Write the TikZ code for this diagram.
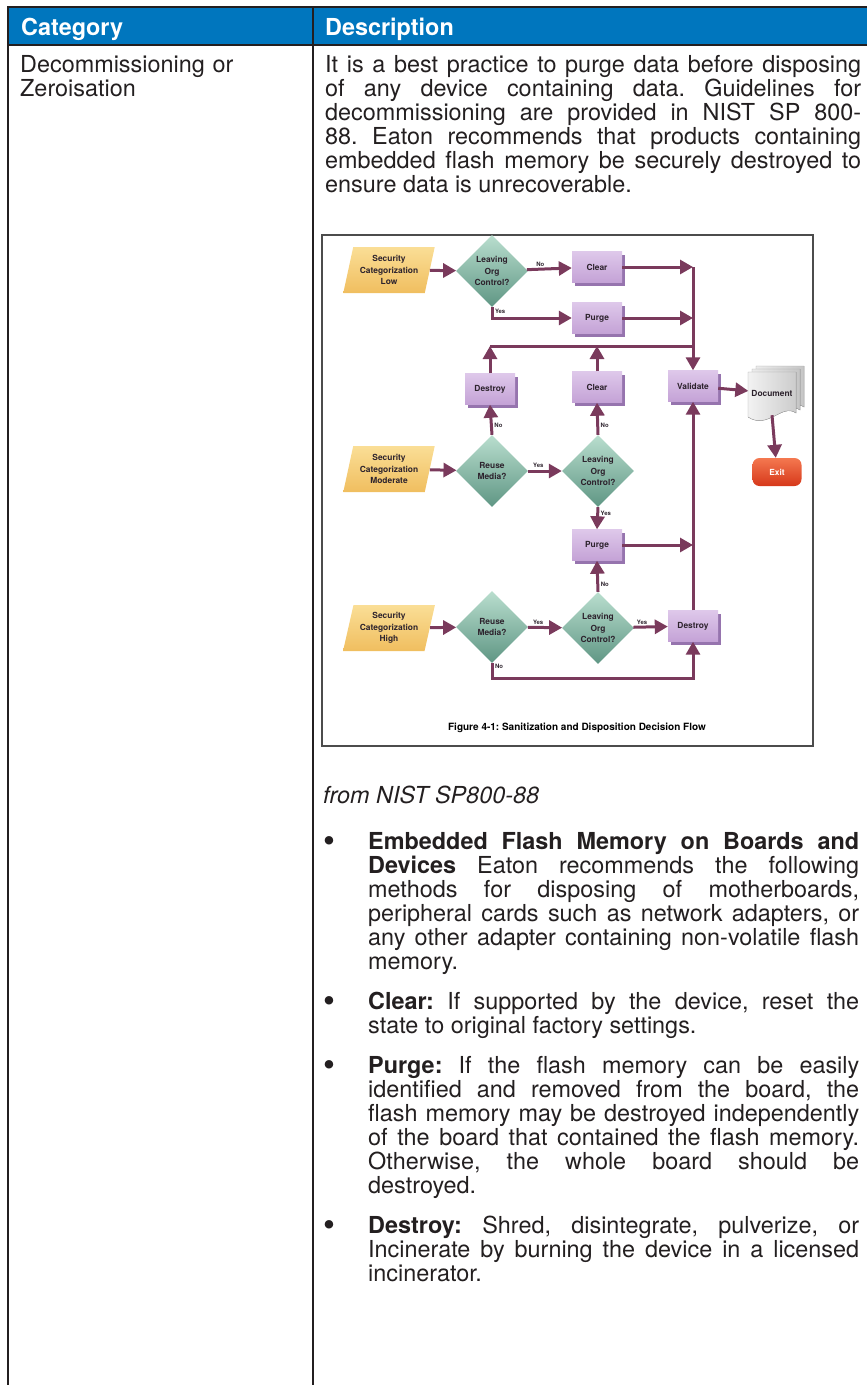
\documentclass[tikz,border=0pt]{standalone}
\usepackage{fontspec}
\setmainfont{TeX Gyre Heros}
\usetikzlibrary{positioning, shapes.geometric, arrows.meta, shadows}

\definecolor{headblue}{RGB}{0,118,190}
\definecolor{rulegray}{RGB}{35,31,32}
\definecolor{ink}{RGB}{35,31,32}
\definecolor{flowline}{RGB}{122,58,92}
\definecolor{flowtext}{RGB}{45,35,45}
\definecolor{catlight}{RGB}{250,222,150}
\definecolor{catdark}{RGB}{240,190,95}
\definecolor{qlight}{RGB}{185,222,206}
\definecolor{qdark}{RGB}{95,150,132}
\definecolor{boxlight}{RGB}{222,200,234}
\definecolor{boxfill}{RGB}{196,162,214}
\definecolor{boxside}{RGB}{150,116,174}
\definecolor{exitlight}{RGB}{244,120,80}
\definecolor{exitdark}{RGB}{214,56,26}

\newcommand{\tabbody}{\fontsize{23.4}{24}\selectfont}
\newcommand{\tabhead}{\fontsize{23.4}{24}\selectfont\bfseries}
\newcommand{\flowtxt}{\fontsize{8.4}{11.5}\selectfont\bfseries}
\newcommand{\flowtag}{\fontsize{6}{6}\selectfont\bfseries}
\newcommand{\figcapfont}{\fontsize{10}{10}\selectfont\bfseries}
\tolerance=10000
\hbadness=10000
\frenchspacing

\begin{document}
\begin{tikzpicture}[x=1pt, y=-1pt,
    txt/.style={inner sep=0pt, anchor=base west, font=\tabbody, text=ink},
    para/.style={txt, text width=536pt, align=justify},
    item/.style={txt, text width=491pt, align=justify},
    dot/.style={inner sep=0pt, anchor=base, font=\fontsize{34}{24}\selectfont, text=ink},
    head/.style={inner sep=0pt, anchor=base west, font=\tabhead, text=white},
    cat/.style={trapezium, trapezium left angle=75, trapezium right angle=105, trapezium stretches=true, minimum width=92pt, minimum height=46pt, inner sep=1pt, top color=catlight, bottom color=catdark, font=\flowtxt, align=center, text=flowtext},
    quest/.style={diamond, aspect=1, minimum size=72pt, inner sep=0pt, top color=qlight, bottom color=qdark, font=\flowtxt, align=center, text=flowtext},
    act/.style={rectangle, minimum width=50pt, minimum height=31pt, top color=boxlight, bottom color=boxfill, copy shadow={shadow xshift=3pt, shadow yshift=-3pt, fill=boxside, draw=none}, font=\flowtxt, text=flowtext},
    flow/.style={draw=flowline, line width=3pt, -{Stealth[inset=0pt, length=13pt, width=14pt]}},
    bus/.style={draw=flowline, line width=3pt},
    tag/.style={font=\flowtag, text=flowtext, inner sep=1.5pt}
  ]
  \useasboundingbox (0,0) rectangle (867,1385);

  % table
  \fill[headblue] (8,8) rectangle (867,44);
  \draw[rulegray, line width=2.5pt] (867,7) -- (8,7) -- (8,1385);
  \draw[rulegray, line width=2.5pt] (8,45) -- (867,45);
  \draw[rulegray, line width=2.5pt] (313,7) -- (313,1385);

  \node[head] (hcat) at (21,35) {Category};
  \node[head] (hdesc) at (325,35) {Description};

  \node[txt, text width=280pt, align=left] (catcell) at (20,72) {Decommissioning or\\Zeroisation};
  \node[para] (desc) at (325,72) {It is a best practice to purge data before disposing\linebreak
    of any device containing data. Guidelines for\linebreak
    decommissioning are provided in NIST SP 800-\linebreak
    88. Eaton recommends that products containing\linebreak
    embedded flash memory be securely destroyed to\linebreak
    ensure data is unrecoverable.};

  % figure 4-1
  \draw[gray!60!black, line width=1.3pt] (322,235) rectangle (813,746);

  \node[cat] (low) at (389,270) {Security\\Categorization\\Low};
  \node[cat] (mod) at (389,469) {Security\\Categorization\\Moderate};
  \node[cat] (high) at (389,628) {Security\\Categorization\\High};

  \node[quest] (q1) at (492,271) {Leaving\\Org\\Control?};
  \node[quest] (q2) at (492,471) {Reuse\\Media?};
  \node[quest] (q3) at (598,471) {Leaving\\Org\\Control?};
  \node[quest] (q4) at (492,627) {Reuse\\Media?};
  \node[quest] (q5) at (598,628) {Leaving\\Org\\Control?};

  \node[act] (clr1) at (597,267) {Clear};
  \node[act] (prg1) at (597,318) {Purge};
  \node[act] (dst1) at (490,389) {Destroy};
  \node[act] (clr2) at (597,387) {Clear};
  \node[act] (val) at (693,386) {Validate};
  \node[act] (prg2) at (597,545) {Purge};
  \node[act] (dst2) at (693,626) {Destroy};

  \foreach \k in {2,1}
    \filldraw[draw=gray!70, left color=gray!15, right color=gray!45, shift={(4*\k,-3*\k)}]
      (748,372) -- (796,372) -- (796,413) .. controls (782,403) and (768,430) .. (748,417) -- cycle;
  \filldraw[draw=gray!70, left color=gray!10, right color=gray!40]
    (748,372) -- (796,372) -- (796,413) .. controls (782,403) and (768,430) .. (748,417) -- cycle;
  \node[font=\flowtxt, text=flowtext, inner sep=0pt, minimum width=47pt, minimum height=44pt] (doc) at (772,393) {Document};
  \node[rectangle, rounded corners=7pt, minimum width=49pt, minimum height=28pt, top color=exitlight, bottom color=exitdark, font=\flowtxt, text=white] (ext) at (777,472) {Exit};

  \coordinate (bus) at (694,346);
  \coordinate (drop) at (0,678);

  \draw[flow] (low) -- (q1);
  \draw[flow] (q1) -- node[tag, above, pos=0.3] {No} (clr1);
  \draw[flow] (q1.south) |- node[tag, right, pos=0.2] {Yes} (prg1.west);
  \draw[flow] (clr1.east) -- (clr1.east -| val.north);
  \draw[flow] (prg1.east) -- (prg1.east -| val.north);
  \draw[flow] (clr1.east -| val.north) -- (val.north);
  \draw[bus] (dst1.north |- bus) -- (bus);
  \draw[flow] (dst1.north) -- (dst1.north |- bus);
  \draw[flow] (clr2.north) -- (clr2.north |- bus);

  \draw[flow] (mod) -- (q2);
  \draw[flow] (q2.north) -- node[tag, right, pos=0.3] {No} (dst1.south);
  \draw[flow] (q2) -- node[tag, above, pos=0.3] {Yes} (q3);
  \draw[flow] (q3.north) -- node[tag, right, pos=0.3] {No} (clr2.south);
  \draw[flow] (q3.south) -- node[tag, right, pos=0.3] {Yes} (prg2.north);
  \draw[flow] (prg2.east) -- (prg2.east -| val.south);
  \draw[flow] (dst2.north) -- (val.south);
  \draw[flow] (val) -- (doc);
  \draw[flow] (doc.south) -- (ext);

  \draw[flow] (high) -- (q4);
  \draw[flow] (q4) -- node[tag, above, pos=0.3] {Yes} (q5);
  \draw[flow] (q5) -- node[tag, above, pos=0.25] {Yes} (dst2);
  \draw[flow] (q5.north) -- node[tag, right, pos=0.25] {No} (prg2.south);
  \draw[flow] (q4.south) -- node[tag, right, pos=0.2] {No} (q4.south |- drop) -| (dst2.south);

  \node[font=\figcapfont, text=black] (figcap) at (577,728) {Figure 4-1: Sanitization and Disposition Decision Flow};

  % text below the figure
  \node[txt, font=\tabbody\itshape] (src) at (323,803) {from NIST SP800-88};

  \node[dot] (d1) at (329,852) {\textbullet};
  \node[item] (i1) at (368,849) {\textbf{Embedded Flash Memory on Boards and}\linebreak
    \textbf{Devices} Eaton recommends the following\linebreak
    methods for disposing of motherboards,\linebreak
    peripheral cards such as network adapters, or\linebreak
    any other adapter containing non-volatile flash\linebreak
    memory.};
  \node[dot] (d2) at (329,1012) {\textbullet};
  \node[item] (i2) at (368,1009) {\textbf{Clear:} If supported by the device, reset the\linebreak
    state to original factory settings.};
  \node[dot] (d3) at (329,1076) {\textbullet};
  \node[item] (i3) at (368,1073) {\textbf{Purge:} If the flash memory can be easily\linebreak
    identified and removed from the board, the\linebreak
    flash memory may be destroyed independently\linebreak
    of the board that contained the flash memory.\linebreak
    Otherwise, the whole board should be\linebreak
    destroyed.};
  \node[dot] (d4) at (329,1236) {\textbullet};
  \node[item] (i4) at (368,1233) {\textbf{Destroy:} Shred, disintegrate, pulverize, or\linebreak
    Incinerate by burning the device in a licensed\linebreak
    incinerator.};
\end{tikzpicture}
\end{document}
